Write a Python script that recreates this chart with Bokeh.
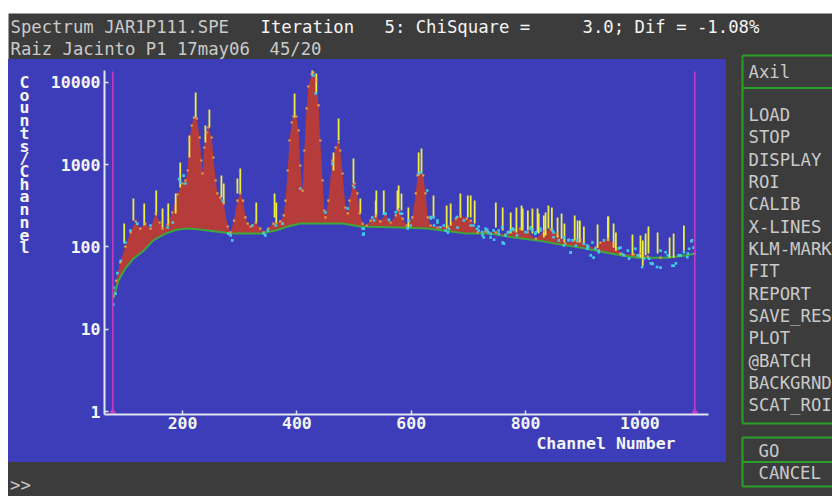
from bokeh.plotting import figure
from bokeh.models import Range1d, FixedTicker, NumeralTickFormatter, Title, Spacer, Div
from bokeh.layouts import column, row
from bokeh.embed import file_html
from bokeh.resources import INLINE
from bokeh.core.properties import value

# ---------------- data ----------------
# background continuum (green line)
bg_ch = [79, 88, 100, 114, 132, 149, 170, 191, 209, 231, 258, 289, 336, 363, 384, 406,
         480, 511, 581, 628, 669, 698, 739, 779, 821, 861, 896, 931, 966, 996, 1048, 1083, 1096]
bg_cnt = [24, 39, 55, 72, 90, 120, 145, 163, 167, 163, 154, 145, 145, 158, 177, 192,
          192, 177, 172, 167, 154, 145, 145, 130, 120, 107, 98, 88, 79, 74, 74, 79, 83]

# fitted spectrum (top of the red area)
fit_ch = [79, 84, 91, 100, 109, 118, 126, 135, 144, 153,
          160, 165, 174, 182, 191, 200, 205, 209, 212, 216,
          220, 225, 230, 233, 235, 238, 242, 245, 251, 254,
          258, 261, 266, 272, 279, 284, 290, 296, 301, 306,
          310, 314, 319, 328, 336, 342, 350, 359, 371, 377,
          380, 384, 387, 391, 394, 399, 403, 406, 410, 413,
          417, 420, 426, 429, 434, 438, 441, 445, 448, 450,
          455, 462, 468, 473, 476, 480, 485, 489, 492, 498,
          501, 506, 510, 515, 522, 529, 538, 546, 555, 564,
          573, 578, 585, 592, 602, 608, 611, 616, 621, 625,
          629, 634, 646, 664, 678, 686, 697, 704, 716, 730,
          748, 765, 779, 791, 804, 818, 832, 844, 856, 870,
          884, 896, 910, 923, 931, 944, 954, 966, 989, 1001,
          1014, 1036, 1071, 1096]
fit_cnt = [25, 39, 65, 101, 150, 204, 167, 192, 167, 255,
           198, 167, 187, 262, 433, 589, 641, 848, 1963, 2985,
           3730, 3630, 2135, 1122, 780, 1614, 2455, 2825, 2135, 1220,
           641, 446, 398, 337, 177, 150, 209, 366, 446, 366,
           228, 192, 177, 198, 167, 150, 167, 192, 204, 241,
           366, 848, 1963, 3250, 3840, 3840, 2595, 975, 484, 1484,
           4810, 8890, 12440, 13150, 10500, 5230, 1963, 641, 277, 228,
           366, 1122, 1614, 1855, 1484, 780, 301, 255, 366, 557,
           589, 446, 255, 192, 182, 209, 241, 204, 248, 198,
           241, 277, 221, 182, 228, 446, 738, 802, 738, 446,
           228, 182, 172, 177, 221, 241, 221, 209, 150, 154,
           150, 141, 163, 167, 150, 126, 154, 163, 145, 110,
           120, 123, 101, 98, 113, 126, 110, 83, 81, 83,
           76, 74, 79, 83]

# yellow residual bars: channel, lower and upper counts
yl_ch = [98, 114, 133, 154, 165, 175, 188, 196, 212, 223,
         240, 247, 268, 272, 296, 301, 329, 361, 364, 396,
         427, 434, 464, 473, 499, 511, 538, 539, 552, 576,
         578, 583, 595, 613, 618, 639, 662, 669, 686, 699,
         704, 711, 748, 760, 774, 784, 793, 795, 804, 812,
         821, 823, 832, 835, 840, 846, 856, 863, 868, 886,
         891, 895, 902, 926, 944, 945, 954, 958, 987, 1001,
         1005, 1010, 1015, 1031, 1052, 1059, 1077]
yl_lo = [110, 209, 182, 241, 172, 182, 255, 527, 1220, 3730,
         1855, 2825, 398, 337, 446, 446, 192, 228, 192, 3730,
         12100, 7320, 848, 1963, 589, 255, 228, 241, 255, 277,
         293, 277, 167, 738, 780, 228, 167, 182, 228, 228,
         228, 192, 172, 158, 145, 150, 158, 158, 158, 145,
         150, 145, 130, 138, 167, 158, 130, 126, 113, 120,
         113, 113, 110, 98, 120, 120, 98, 90, 79, 74,
         59, 79, 83, 83, 74, 74, 90]
yl_hi = [192, 387, 337, 484, 293, 337, 446, 1061, 2255, 7530,
         2985, 4670, 738, 589, 678, 897, 346, 446, 346, 7320,
         19450, 12800, 1403, 3630, 1186, 387, 366, 484, 484, 484,
         557, 446, 301, 1403, 1570, 421, 318, 337, 446, 421,
         421, 366, 346, 301, 262, 301, 318, 293, 277, 293,
         293, 255, 241, 262, 318, 301, 228, 255, 192, 241,
         209, 209, 177, 187, 234, 234, 192, 150, 141, 138,
         120, 145, 177, 150, 130, 145, 182]

# measured data points (cyan dots)
dat_ch = [79, 79, 83, 86, 92, 100, 109, 121, 144, 174,
          183, 194, 196, 202, 205, 270, 280, 284, 287, 322,
          342, 345, 349, 363, 375, 406, 429, 433, 450, 462,
          489, 500, 515, 516, 517, 517, 532, 535, 552, 555,
          561, 573, 581, 584, 594, 596, 599, 613, 616, 628,
          634, 634, 639, 640, 646, 646, 651, 657, 660, 664,
          666, 680, 681, 692, 704, 709, 715, 718, 718, 724,
          725, 727, 730, 733, 735, 739, 739, 744, 745, 753,
          753, 759, 760, 762, 762, 765, 769, 771, 774, 777,
          779, 785, 800, 809, 809, 812, 817, 818, 826, 826,
          847, 849, 849, 858, 867, 867, 875, 876, 879, 879,
          882, 888, 890, 902, 908, 908, 909, 914, 917, 919,
          922, 928, 928, 937, 963, 966, 969, 972, 979, 981,
          992, 996, 998, 1004, 1007, 1016, 1019, 1022, 1022, 1030,
          1036, 1036, 1045, 1049, 1057, 1059, 1063, 1068, 1071, 1077,
          1083, 1084, 1086, 1090, 1091, 1094]
dat_cnt = [20, 32, 27, 48, 68, 113, 158, 192, 182, 172,
           198, 667, 606, 734, 589, 366, 145, 138, 120, 182,
           145, 138, 158, 182, 192, 513, 12100, 7320, 262, 1031,
           293, 531, 167, 141, 145, 166, 228, 209, 253, 255,
           213, 264, 255, 253, 167, 209, 182, 773, 802, 484,
           221, 230, 228, 182, 198, 209, 173, 182, 158, 150,
           166, 230, 172, 209, 182, 182, 166, 158, 177, 151,
           138, 130, 167, 161, 150, 130, 144, 158, 122, 145,
           158, 173, 113, 110, 109, 138, 150, 151, 158, 167,
           161, 138, 151, 165, 173, 161, 144, 150, 167, 158,
           158, 150, 131, 120, 130, 104, 120, 122, 85, 86,
           120, 104, 120, 109, 95, 104, 98, 79, 113, 74,
           95, 90, 86, 120, 96, 98, 82, 79, 90, 72,
           95, 79, 79, 57, 72, 72, 63, 63, 62, 57,
           56, 90, 86, 79, 59, 59, 63, 79, 79, 86,
           75, 83, 95, 117, 120, 98]

roi_ch = [78, 1096]
x_ticks = [200, 400, 600, 800, 1000]
y_ticks = [1, 10, 100, 1000, 10000]
x_title = "Channel Number"
y_title = "Counts/Channel"
head_1 = ["Spectrum JAR1P111.SPE", "Iteration", "5: ChiSquare =", "3.0; Dif = -1.08%"]
head_2 = ["Raiz Jacinto P1 17may06", "45/20"]
panel_title = "Axil"
menu_items = ["LOAD", "STOP", "DISPLAY", "ROI", "CALIB", "X-LINES", "KLM-MARK",
              "FIT", "REPORT", "SAVE_RES", "PLOT", "@BATCH", "BACKGRND", "SCAT_ROI"]
buttons = ["GO", "CANCEL"]
prompt = ">>"

# ---------------- styles ----------------
BLUE = "#3d3dba"
GRAY = "#3c3c3c"
RED = "#b53c3a"
GREEN = "#3ca83c"
YELLOW = "#eeee40"
CYAN = "#40cce6"
ORANGE = "#e8a040"
MAGENTA = "#c23cc2"
BOX = "#2aa02a"
LIGHT = "#cacaca"
WHITE = "#f4f4f4"
AXIS = "#e4e4f4"
MONO = "DejaVu Sans Mono"


def panel(w, h, xr, yr, bg, **kw):
    opts = dict(min_border=0)
    opts.update(kw)
    f = figure(width=w, height=h, x_range=Range1d(*xr), y_range=Range1d(*yr),
               output_backend="svg", toolbar_location=None, x_axis_location=None,
               y_axis_location=None, background_fill_color=bg,
               border_fill_color=bg, outline_line_color=None, **opts)
    f.grid.visible = False
    return f


# ---------------- main spectrum plot (page x 40..726, y 59..462) ----------------
p = figure(width=686, height=403, x_range=Range1d(63.5, 1120.0),
           y_range=Range1d(0.9196, 13913), y_axis_type="log",
           output_backend="svg", toolbar_location=None,
           min_border_left=64, min_border_right=18, min_border_top=11, min_border_bottom=48,
           background_fill_color=BLUE, border_fill_color=BLUE, outline_line_color=None)
p.grid.visible = False
for ax in (p.xaxis, p.yaxis):
    ax.axis_line_color = AXIS
    ax.axis_line_width = 2
    ax.major_tick_line_color = AXIS
    ax.major_tick_line_width = 1.5
    ax.major_tick_in = 4
    ax.major_tick_out = 0
    ax.minor_tick_line_color = None
    ax.major_label_text_color = WHITE
    ax.major_label_text_font = MONO
    ax.major_label_text_font_style = "bold"
    ax.major_label_text_font_size = "16.5px"
p.xaxis.ticker = FixedTicker(ticks=x_ticks)
p.yaxis.ticker = FixedTicker(ticks=y_ticks)
p.yaxis.formatter = NumeralTickFormatter(format="0")
p.xaxis.major_label_standoff = 2
p.yaxis.major_label_standoff = 4
p.add_layout(Title(text=x_title, align="right", offset=33, standoff=0, text_font=MONO,
                   text_font_style="bold", text_font_size="16.5px", text_color=WHITE), "below")

p.patch(fit_ch + bg_ch[::-1], fit_cnt + bg_cnt[::-1], fill_color=RED, line_color=None)
p.line(bg_ch, bg_cnt, line_color=GREEN, line_width=2)
p.segment(x0=yl_ch, y0=yl_lo, x1=yl_ch, y1=yl_hi, line_color=YELLOW, line_width=1.8)
p.scatter(fit_ch, fit_cnt, marker="square", size=2.2, fill_color=ORANGE, line_color=None)
p.scatter(dat_ch, dat_cnt, marker="square", size=2.6, fill_color=CYAN, line_color=None)
p.segment(x0=roi_ch, y0=[p.y_range.start] * 2, x1=roi_ch, y1=[13500] * 2,
          line_color=MAGENTA, line_width=1.6)
p.scatter(roi_ch, [1.0, 1.0], marker="triangle", size=7, fill_color=MAGENTA, line_color=None)

# ---------------- stacked y-axis title (page x 8..40); same borders as p ----------------
yl = panel(32, 403, (8, 40), (414, 70), BLUE,
           min_border_top=11, min_border_bottom=48, min_border_left=0, min_border_right=0)
yl.text(x=[24] * len(y_title), y=[82.0 + 12.7 * i for i in range(len(y_title))],
        text=list(y_title), text_align="center", text_baseline="alphabetic",
        text_font=value(MONO), text_font_style="bold", text_font_size="16.5px",
        text_color=WHITE)

# ---------------- header (page y 13..59) ----------------
h = panel(824, 46, (8, 832), (59, 13), GRAY)
h.text(x=[10], y=[26], text=[head_1[0]], text_baseline="middle", text_font=value(MONO),
       text_font_size="17.3px", text_color=LIGHT)
h.text(x=[260, 384, 582], y=[26] * 3, text=head_1[1:], text_baseline="middle",
       text_font=value(MONO), text_font_size="17.3px", text_color=WHITE)
h.text(x=[10, 269], y=[48, 48], text=head_2, text_baseline="middle", text_font=value(MONO),
       text_font_size="17.3px", text_color=LIGHT)
h.segment(x0=[742, 742], y0=[55, 55], x1=[832, 742], y1=[55, 60], line_color=BOX, line_width=2)

# ---------------- right command panel (page x 726..832, y 59..496) ----------------
r = panel(106, 437, (726, 832), (496, 59), GRAY)
r.segment(x0=[742, 742, 742, 742, 742, 742, 742],
          y0=[58, 87.5, 423, 437, 437, 461.5, 486],
          x1=[742, 832, 832, 742, 832, 832, 832],
          y1=[423, 87.5, 423, 486, 437, 461.5, 486],
          line_color=BOX, line_width=2)
r.text(x=[748], y=[71], text=[panel_title], text_baseline="middle", text_font=value(MONO),
       text_font_size="17.3px", text_color=LIGHT)
r.text(x=[748] * len(menu_items), y=[114.5 + 22.33 * i for i in range(len(menu_items))],
       text=menu_items, text_baseline="middle", text_font=value(MONO),
       text_font_size="17.3px", text_color=LIGHT)
r.text(x=[758, 758], y=[450, 472.5], text=buttons, text_baseline="middle",
       text_font=value(MONO), text_font_size="17.3px", text_color=LIGHT)

# ---------------- bottom strip (page x 8..726, y 462..496) ----------------
b = Div(text='<div style="position:relative; left:2px; top:15px; line-height:17px; '
             'font-family:\'DejaVu Sans Mono\'; font-size:17.3px; color:%s;">&gt;&gt;</div>' % LIGHT,
        width=718, height=34,
        styles={"background-color": GRAY, "overflow": "hidden", "margin": "0", "padding": "0"})

plot_row = row(yl, p, styles={"background-color": BLUE})
lower = row(column(plot_row, b), r, styles={"background-color": GRAY})
body = column(Spacer(width=824, height=13), h, lower)
layout = row(Spacer(width=8, height=496), body)
open("out.html", "w").write(file_html(layout, INLINE))
